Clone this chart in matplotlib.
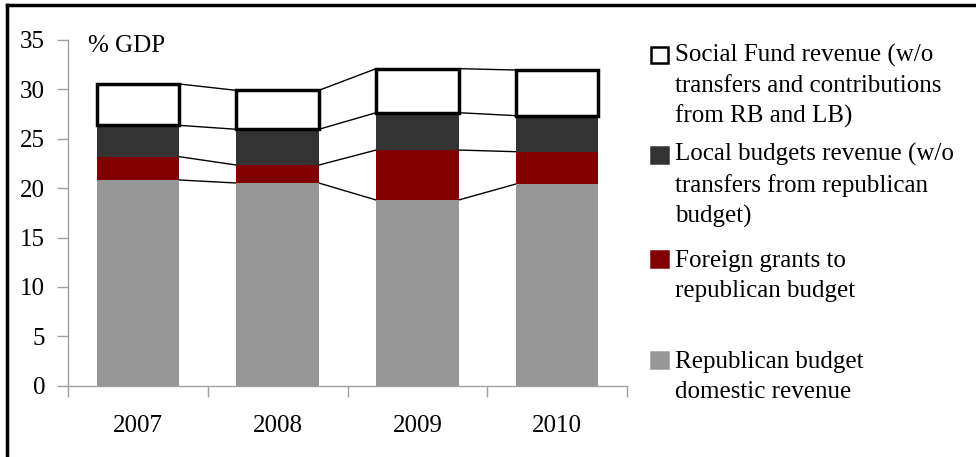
import numpy as np
import matplotlib.pyplot as plt
from matplotlib.patches import Rectangle
from matplotlib.lines import Line2D

plt.rcParams['font.family'] = ['Liberation Serif', 'DejaVu Serif']

years = ['2007', '2008', '2009', '2010']
# % of GDP
rb_domestic = [20.83, 20.52, 18.80, 20.42]
foreign_grants = [2.36, 1.82, 5.06, 3.27]
local_budgets = [3.17, 3.62, 3.78, 3.65]
social_fund = [4.19, 3.94, 4.46, 4.62]

labels = ['Republican budget\ndomestic revenue',
          'Foreign grants to\nrepublican budget',
          'Local budgets revenue (w/o\ntransfers from republican\nbudget)',
          'Social Fund revenue (w/o\ntransfers and contributions\nfrom RB and LB)']
colors = ['#969696', '#800000', '#333333', 'white']

FS = 18
W, H = 976, 457
fig = plt.figure(figsize=(W / 100, H / 100), dpi=100)
ax = fig.add_axes([68 / W, 1 - 385.7 / H, (627 - 68) / W, (385.7 - 40) / H])

x = np.arange(len(years))
width = 0.59
series = [rb_domestic, foreign_grants, local_budgets, social_fund]
bottom = np.zeros(len(years))
tops = []
for vals, col in zip(series, colors):
    vals = np.array(vals)
    if col == 'white':
        ax.bar(x, vals, width, bottom=bottom, color=col, edgecolor='black',
               linewidth=2.5, zorder=3)
    else:
        ax.bar(x, vals, width, bottom=bottom, color=col, linewidth=0, zorder=2)
    bottom = bottom + vals
    tops.append(bottom.copy())

# series lines between bars
for t in tops:
    for i in range(len(years) - 1):
        ax.plot([x[i] + width / 2, x[i + 1] - width / 2], [t[i], t[i + 1]],
                color='black', lw=1, zorder=1)

ax.set_xlim(-0.5, len(years) - 0.5)
ax.set_ylim(0, 35)
ax.set_yticks(range(0, 36, 5))
ax.set_xticks(x)
ax.set_xticklabels(years)
ax.set_xticks(np.arange(-0.5, len(years), 1), minor=True)
ax.tick_params(axis='x', which='major', length=0, pad=21, labelsize=FS)
ax.tick_params(axis='x', which='minor', length=8, color='#a0a0a0', width=1)
ax.tick_params(axis='y', length=8, color='#a0a0a0', width=1, pad=8.5, labelsize=FS)
for s in ['top', 'right']:
    ax.spines[s].set_visible(False)
for s in ['left', 'bottom']:
    ax.spines[s].set_color('#a0a0a0')
    ax.spines[s].set_linewidth(1)

fig.text(88 / W, 1 - 52 / H, '% GDP', fontsize=FS, va='baseline', ha='left')

# legend drawn by hand: first-line baselines in pixels from top
legend_base = [63, 163, 267, 368]
line_px = 30
for lab, col, yb in zip(labels[::-1], colors[::-1], legend_base):
    fy = 1 - yb / H
    fig.patches.append(Rectangle((651 / W, fy), 16.5 / W, 16.5 / H,
                                 transform=fig.transFigure, facecolor=col,
                                 edgecolor='black' if col == 'white' else col,
                                 linewidth=1.8))
    # va='baseline' anchors the last line, so shift down by the extra lines
    n = lab.count('\n')
    fig.text(675 / W, 1 - (yb + n * line_px) / H, lab, fontsize=FS,
             va='baseline', ha='left', linespacing=1.46)

# frame on left and top
fig.add_artist(Line2D([6.5 / W, 6.5 / W], [0, 1 - 4.5 / H], color='black', lw=2.5,
                      transform=fig.transFigure))
fig.add_artist(Line2D([6.5 / W, 1], [1 - 4.5 / H, 1 - 4.5 / H], color='black', lw=2.5,
                      transform=fig.transFigure))

fig.savefig('out.png', dpi=100)
